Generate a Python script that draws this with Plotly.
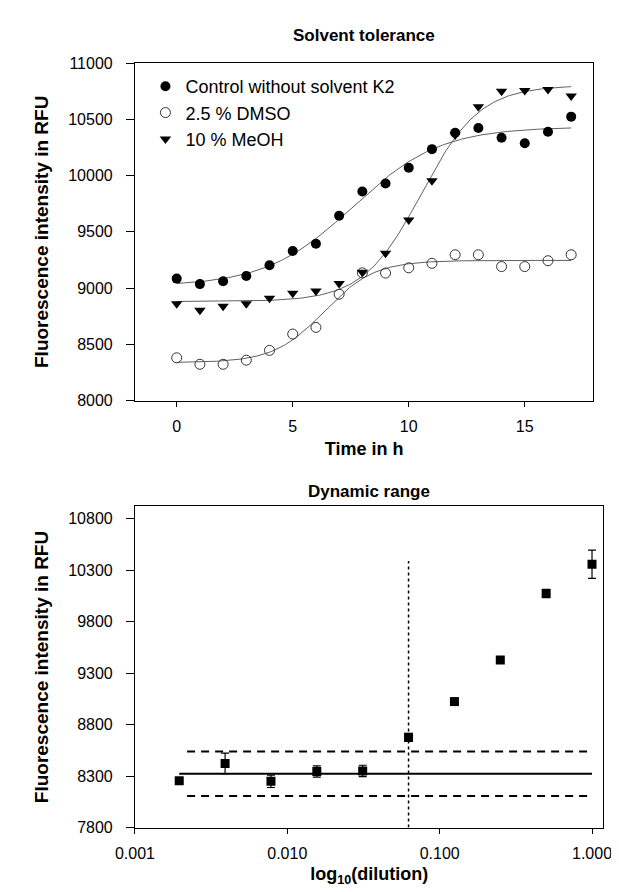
import numpy as np
import plotly.graph_objects as go

# ---------------- Data: Solvent tolerance ----------------
time_h = [0, 1, 2, 3, 4, 5, 6, 7, 8, 9, 10, 11, 12, 13, 14, 15, 16, 17]
control_k2 = [9084, 9035, 9061, 9107, 9203, 9330, 9394, 9643, 9858, 9930,
              10070, 10235, 10380, 10423, 10336, 10287, 10389, 10524]
dmso_25 = [8380, 8322, 8322, 8359, 8446, 8591, 8650, 8945, 9135, 9133,
           9180, 9220, 9296, 9296, 9191, 9191, 9243, 9296]
meoh_10 = [8861, 8803, 8838, 8861, 8910, 8954, 8974, 9041, 9140, 9310,
           9606, 9954, 10360, 10611, 10750, 10757, 10765, 10707]
series_names = ["Control without solvent K2", "2.5 % DMSO", "10 % MeOH"]
y1_tickvals = [8000, 8500, 9000, 9500, 10000, 10500, 11000]
x1_tickvals = [0, 5, 10, 15]

# ---------------- Data: Dynamic range ----------------
dilution = [1/512, 1/256, 1/128, 1/64, 1/32, 1/16, 1/8, 1/4, 1/2, 1]
rfu = [8255, 8423, 8249, 8344, 8350, 8676, 9024, 9428, 10074, 10358]
rfu_err = [20, 100, 60, 55, 55, 40, 30, 20, 40, 137]
baseline_x = [1/512, 1]
baseline_mean = 8322
limit_x = [0.0022, 1]
limit_upper = 8540
limit_lower = 8107
detect_x = 1/16
detect_top = 10390
x2_tickvals = [0.001, 0.01, 0.1, 1]
x2_ticktext = ["0.001", "0.010", "0.100", "1.000"]
y2_tickvals = [7800, 8300, 8800, 9300, 9800, 10300, 10800]

FONT = "Liberation Sans, Arial, sans-serif"


def logistic_fit(x, y):
    x = np.asarray(x, float)
    y = np.asarray(y, float)
    best = None
    for x0 in np.arange(0, 17.01, 0.05):
        for k in np.arange(0.3, 5.0, 0.02):
            s = 1.0 / (1.0 + np.exp(-(x - x0) / k))
            M = np.column_stack([1 - s, s])
            coef, *_ = np.linalg.lstsq(M, y, rcond=None)
            err = np.sum((M @ coef - y) ** 2)
            if best is None or err < best[0]:
                best = (err, x0, k, coef)
    _, x0, k, (a, b) = best
    xf = np.linspace(min(x), max(x), 200)
    sf = 1.0 / (1.0 + np.exp(-(xf - x0) / k))
    return xf, a * (1 - sf) + b * sf


fig = go.Figure()

for ys in [control_k2, dmso_25, meoh_10]:
    xf, yf = logistic_fit(time_h, ys)
    fig.add_trace(go.Scatter(x=xf, y=yf, mode="lines",
                             line=dict(color="#606060", width=1),
                             showlegend=False, hoverinfo="skip",
                             xaxis="x", yaxis="y"))

fig.add_trace(go.Scatter(x=time_h, y=control_k2, mode="markers", name=series_names[0],
                         marker=dict(symbol="circle", size=10, color="black"),
                         xaxis="x", yaxis="y"))
fig.add_trace(go.Scatter(x=time_h, y=dmso_25, mode="markers", name=series_names[1],
                         marker=dict(symbol="circle-open", size=10, color="#333333",
                                     line=dict(width=1)),
                         xaxis="x", yaxis="y"))
fig.add_trace(go.Scatter(x=time_h, y=meoh_10, mode="markers", name=series_names[2],
                         marker=dict(symbol="triangle-down", size=10, color="black"),
                         xaxis="x", yaxis="y"))

fig.add_trace(go.Scatter(x=baseline_x, y=[baseline_mean] * 2, mode="lines",
                         line=dict(color="black", width=2), showlegend=False,
                         xaxis="x2", yaxis="y2"))
for lv in [limit_upper, limit_lower]:
    fig.add_trace(go.Scatter(x=limit_x, y=[lv] * 2, mode="lines",
                             line=dict(color="black", width=2, dash="8px,6px"),
                             showlegend=False, xaxis="x2", yaxis="y2"))
fig.add_trace(go.Scatter(x=[detect_x, detect_x], y=[7800, detect_top], mode="lines",
                         line=dict(color="black", width=1.5, dash="dot"),
                         showlegend=False, xaxis="x2", yaxis="y2"))
fig.add_trace(go.Scatter(x=dilution, y=rfu, mode="markers",
                         marker=dict(symbol="square", size=9, color="black"),
                         error_y=dict(type="data", array=rfu_err, visible=True,
                                      color="black", thickness=1.2, width=4),
                         showlegend=False, xaxis="x2", yaxis="y2"))

W, H = 619, 892
TICK = dict(family=FONT, size=16, color="black")
axis_common = dict(showline=True, linecolor="black", linewidth=1, mirror=True,
                   ticks="outside", tickcolor="black", showgrid=False, zeroline=False,
                   tickfont=TICK)
ytitle = dict(text="<b>Fluorescence intensity in RFU</b>",
              font=dict(family=FONT, size=19), standoff=14)

fig.update_layout(
    width=W, height=H,
    margin=dict(l=0, r=0, t=0, b=0),
    paper_bgcolor="white", plot_bgcolor="white",
    font=dict(family=FONT, color="black"),
    showlegend=True,
    legend=dict(x=123 / W, y=1 - 53 / H, xanchor="left", yanchor="top",
                font=dict(family=FONT, size=18, color="black"),
                bgcolor="rgba(0,0,0,0)", tracegroupgap=0, itemwidth=30),
    xaxis=dict(domain=[112 / W, 592 / W], anchor="y", range=[-1.8, 17.95],
               tickvals=x1_tickvals, ticklen=5, ticklabelstandoff=6,
               title=dict(text="<b>Time in h</b>", font=dict(family=FONT, size=18), standoff=8),
               **axis_common),
    yaxis=dict(domain=[1 - 392 / H, 1 - 48 / H], anchor="x", range=[8000, 11000],
               tickvals=y1_tickvals, tickformat="d", ticklen=8, ticklabelstandoff=10,
               title=ytitle, **axis_common),
    xaxis2=dict(domain=[112 / W, 602.7 / W], anchor="y2", type="log",
                range=[-3, 0.075], tickvals=x2_tickvals, ticktext=x2_ticktext, ticklen=5,
                ticklabelstandoff=6,
                title=dict(text="<b>log<sub>10</sub>(dilution)</b>",
                           font=dict(family=FONT, size=18), standoff=6),
                **axis_common),
    yaxis2=dict(domain=[1 - 827.3 / H, 1 - 500 / H], anchor="x2", range=[7800, 10920],
                tickvals=y2_tickvals, tickformat="d", ticklen=8, ticklabelstandoff=10,
                title=ytitle, **axis_common),
    annotations=[
        dict(text="<b>Solvent tolerance</b>", x=352 / W, y=1 - 20 / H, xref="paper",
             yref="paper", showarrow=False, font=dict(family=FONT, size=17),
             xanchor="center", yanchor="middle"),
        dict(text="<b>Dynamic range</b>", x=357 / W, y=1 - 485 / H, xref="paper",
             yref="paper", showarrow=False, font=dict(family=FONT, size=17),
             xanchor="center", yanchor="middle"),
    ],
)

fig.write_html("out.html")
